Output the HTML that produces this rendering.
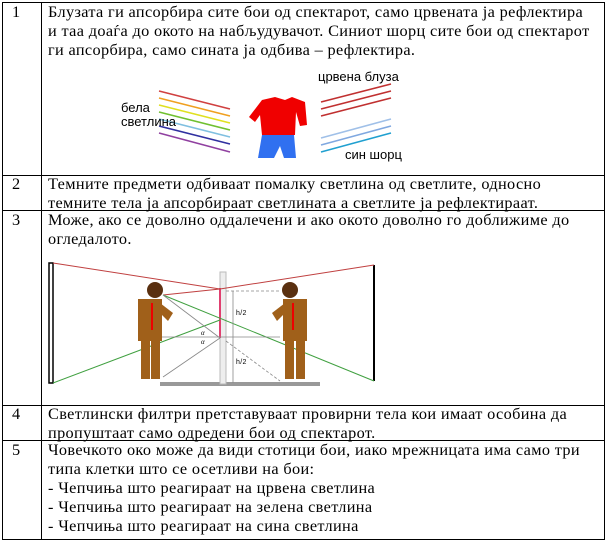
<!DOCTYPE html>
<html><head><meta charset="utf-8"><style>
body{margin:0;width:609px;height:542px;background:#fff;position:relative;overflow:hidden;font-family:"Liberation Serif","DejaVu Serif",serif;font-size:16.3px;letter-spacing:0.35px;color:#000}
.t{position:absolute;left:48px;white-space:nowrap;line-height:19px}
.n{position:absolute;left:12px;line-height:19px}
.h{position:absolute;left:2px;width:603px;height:1px;background:#000}
.v{position:absolute;width:1px;background:#000;top:2px;height:538px}
.a{font-family:"Liberation Sans",sans-serif;font-size:13px;letter-spacing:0;position:absolute;line-height:14px}
</style></head><body>
<div class="h" style="top:2px"></div>
<div class="h" style="top:175px"></div>
<div class="h" style="top:210px"></div>
<div class="h" style="top:405px"></div>
<div class="h" style="top:440px"></div>
<div class="h" style="top:539px"></div>
<div class="v" style="left:2px"></div>
<div class="v" style="left:41px"></div>
<div class="v" style="left:604px"></div>

<div class="n" style="top:2px">1</div>
<div class="t" style="top:2px">Блузата ги апсорбира сите бои од спектарот, само црвената ја рефлектира<br>и таа доаѓа до окото на набљудувачот. Синиот шорц сите бои од спектарот<br>ги апсорбира, само сината ја одбива – рефлектира.</div>

<svg style="position:absolute;left:100px;top:60px" width="340" height="110">
<g stroke-width="1.6">
<line x1="59" y1="31" x2="130" y2="49" stroke="#d04040"/>
<line x1="59" y1="38" x2="130" y2="56" stroke="#f0a020"/>
<line x1="59" y1="45" x2="130" y2="63" stroke="#e0e020"/>
<line x1="59" y1="52" x2="130" y2="70" stroke="#70c030"/>
<line x1="59" y1="59" x2="130" y2="77" stroke="#80c0e0"/>
<line x1="59" y1="66" x2="130" y2="84" stroke="#3030a0"/>
<line x1="59" y1="73" x2="130" y2="92" stroke="#9040a0"/>
<line x1="221" y1="42" x2="291" y2="24" stroke="#c03030"/>
<line x1="221" y1="49" x2="291" y2="31" stroke="#c03030"/>
<line x1="221" y1="56" x2="291" y2="38" stroke="#c03030"/>
<line x1="221" y1="78" x2="291" y2="59" stroke="#a0c0e8"/>
<line x1="221" y1="85" x2="291" y2="66" stroke="#80a8e0"/>
<line x1="221" y1="92" x2="291" y2="73" stroke="#20a0d0"/>
</g>
<path d="M162,40 L175,37 L185,40 L192,37 L205,42 L207,65 L200,66 L196,52 L195,75 L162,75 L160,55 L155,62 L149,57 Z" fill="#f00000"/>
<path d="M162,75 L194,75 L196,98 L184,98 L180,86 L174,98 L158,98 Z" fill="#3070f0"/>
</svg>
<div class="a" style="left:121px;top:101px">бела<br>светлина</div>
<div class="a" style="left:318px;top:70px">црвена блуза</div>
<div class="a" style="left:345px;top:148px">син шорц</div>

<div class="n" style="top:174px">2</div>
<div class="t" style="top:174px">Темните предмети одбиваат помалку светлина од светлите, односно<br>темните тела ја апсорбираат светлината а светлите ја рефлектираат.</div>

<div class="n" style="top:210px">3</div>
<div class="t" style="top:210px">Може, ако се доволно оддалечени и ако окото доволно го доближиме до<br>огледалото.</div>

<svg style="position:absolute;left:40px;top:255px" width="350" height="140">
<rect x="120" y="127" width="160" height="4" fill="#999"/>
<rect x="9" y="8" width="4" height="120" fill="#fff" stroke="#000" stroke-width="1.5"/>
<line x1="334" y1="10" x2="334" y2="126" stroke="#000" stroke-width="2"/>
<rect x="180" y="17" width="6" height="112" fill="#eee" stroke="#bbb"/>
<line x1="180" y1="33" x2="180" y2="83" stroke="#e04070" stroke-width="2"/>
<g stroke="#c04040" stroke-width="1"><line x1="13" y1="8" x2="180" y2="34"/><line x1="334" y1="10" x2="180" y2="34"/><line x1="123" y1="40" x2="180" y2="34"/></g>
<g stroke="#40a040" stroke-width="1"><line x1="13" y1="128" x2="180" y2="65"/><line x1="123" y1="40" x2="334" y2="126"/></g>
<g stroke="#888" stroke-width="0.8" fill="none"><line x1="123" y1="40" x2="180" y2="83"/><line x1="123" y1="122" x2="180" y2="83"/><line x1="120" y1="82" x2="240" y2="82"/><line x1="193" y1="36" x2="193" y2="128"/><line x1="186" y1="36" x2="240" y2="36" stroke-dasharray="3,2"/><line x1="186" y1="86" x2="240" y2="126" stroke-dasharray="3,2"/></g>
<text x="196" y="60" font-size="7" font-family="Liberation Sans">h/2</text>
<text x="196" y="109" font-size="7" font-family="Liberation Sans">h/2</text>
<text x="161" y="80" font-size="7" font-style="italic">α</text>
<text x="161" y="89" font-size="7" font-style="italic">α</text>
<g fill="#a0601a"><path d="M120,48 L133,58 L128,66 L120,58 Z"/><rect x="98" y="44" width="24" height="42"/><rect x="101" y="86" width="9" height="38"/><rect x="111" y="86" width="9" height="38"/></g>
<circle cx="115" cy="35" r="8" fill="#5a3010"/>
<line x1="112" y1="48" x2="112" y2="75" stroke="#e00" stroke-width="2"/>
<g fill="#a0601a"><path d="M245,48 L232,58 L237,66 L245,58 Z"/><rect x="243" y="44" width="24" height="42"/><rect x="245" y="86" width="9" height="38"/><rect x="256" y="86" width="9" height="38"/></g>
<circle cx="250" cy="35" r="8" fill="#5a3010"/>
<line x1="253" y1="48" x2="253" y2="75" stroke="#e00" stroke-width="2"/>
</svg>

<div class="n" style="top:404px">4</div>
<div class="t" style="top:404px">Светлински филтри претставуваат провирни тела кои имаат особина да<br>пропуштаат само одредени бои од спектарот.</div>

<div class="n" style="top:440px">5</div>
<div class="t" style="top:440px">Човечкото око може да види стотици бои, иако мрежницата има само три<br>типа клетки што се осетливи на бои:<br>- Чепчиња што реагираат на црвена светлина<br>- Чепчиња што реагираат на зелена светлина<br>- Чепчиња што реагираат на сина светлина</div>
</body></html>
